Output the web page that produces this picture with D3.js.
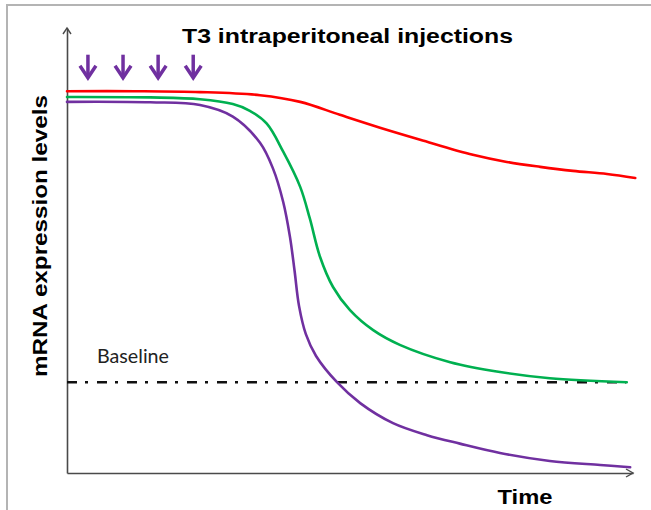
<!DOCTYPE html>
<html>
<head>
<meta charset="utf-8">
<script src="https://cdn.jsdelivr.net/npm/d3@7"></script>
<style>body{margin:0;background:#fff}</style>
</head>
<body>
<svg id="c" width="651" height="510"></svg>
<script>
// ---- data (time units 0..10, relative mRNA level 0..10) ----
const redTime   = [0, 1.2, 2.35, 3.41, 4.12, 4.82, 5.53, 6.24, 7.17, 7.77, 8.36, 8.94, 9.54, 10.04];
const redLevel  = [8.58, 8.58, 8.56, 8.49, 8.34, 8.05, 7.76, 7.49, 7.15, 6.99, 6.88, 6.79, 6.72, 6.63];

const greenTime  = [0, 1.47, 2.35, 2.93, 3.23, 3.53, 3.82, 4.12, 4.29, 4.47, 4.70, 5.00, 5.41, 5.88, 6.77, 7.65, 8.53, 9.89];
const greenLevel = [8.45, 8.44, 8.40, 8.29, 8.14, 7.85, 7.22, 6.43, 5.72, 4.86, 4.18, 3.66, 3.21, 2.88, 2.49, 2.27, 2.13, 2.04];

const purpleTime  = [0, 1.47, 2.35, 2.93, 3.41, 3.64, 3.82, 3.94, 4.02, 4.10, 4.22, 4.40, 4.77, 5.18, 5.76, 6.36, 6.94, 7.65, 8.53, 9.42, 9.95];
const purpleLevel = [8.34, 8.33, 8.27, 8.01, 7.42, 6.84, 6.09, 5.30, 4.55, 3.75, 3.12, 2.63, 2.04, 1.57, 1.12, 0.85, 0.66, 0.45, 0.27, 0.18, 0.13];

const injectionTimes = [0.37, 0.99, 1.61, 2.23];
const baselineLevel = 2.04;
const baselineEnd = 9.88;

const titleText = "T3 intraperitoneal injections";
const xLabel = "Time";
const yLabel = "mRNA expression levels";
const baselineLabel = "Baseline";

// ---- drawing ----
const svg = d3.select("#c");
svg.append("rect").attr("width", 651).attr("height", 510).attr("fill", "#fff");
// frame
svg.append("rect").attr("x", 7).attr("y", 5).attr("width", 700).attr("height", 600)
  .attr("fill", "none").attr("stroke", "#b4b4b4").attr("stroke-width", 2);

const x = d3.scaleLinear().domain([0, 10]).range([67, 633]);
const y = d3.scaleLinear().domain([0, 10]).range([473, 28]);

const axisColor = "#4a4a4a";
const gx = svg.append("g").attr("transform", `translate(0,${y(0)})`)
  .call(d3.axisBottom(x).tickValues([]).tickSizeOuter(0));
const gy = svg.append("g").attr("transform", `translate(${x(0)},0)`)
  .call(d3.axisLeft(y).tickValues([]).tickSizeOuter(0));
[gx, gy].forEach(g => g.select(".domain").attr("stroke", axisColor).attr("stroke-width", 1.6));

// open arrowheads on axes
svg.append("path")
  .attr("d", `M${x(10) - 7},${y(0) - 4}L${x(10)},${y(0)}L${x(10) - 7},${y(0) + 4}`)
  .attr("fill", "none").attr("stroke", axisColor).attr("stroke-width", 1.4);
svg.append("path")
  .attr("d", `M${x(0) - 4},${y(10) + 6}L${x(0)},${y(10)}L${x(0) + 4},${y(10) + 6}`)
  .attr("fill", "none").attr("stroke", axisColor).attr("stroke-width", 1.4);

// baseline
svg.append("line")
  .attr("x1", x(0)).attr("x2", x(baselineEnd))
  .attr("y1", y(baselineLevel)).attr("y2", y(baselineLevel))
  .attr("stroke", "#111").attr("stroke-width", 2.5)
  .attr("stroke-dasharray", "10,8,3,9");

svg.append("text").attr("x", 97).attr("y", 363)
  .attr("font-family", "Lato, 'Open Sans', sans-serif").attr("font-size", 19)
  .attr("fill", "#222").attr("textLength", 72).attr("lengthAdjust", "spacingAndGlyphs")
  .text(baselineLabel);

// curves
const line = d3.line().x(d => x(d[0])).y(d => y(d[1])).curve(d3.curveCatmullRom.alpha(0.5));
const series = [
  {t: redTime, v: redLevel, color: "#ff0000"},
  {t: greenTime, v: greenLevel, color: "#00b050"},
  {t: purpleTime, v: purpleLevel, color: "#7030a0"}
];
series.forEach(s => {
  svg.append("path").datum(d3.zip(s.t, s.v))
    .attr("d", line).attr("fill", "none")
    .attr("stroke", s.color).attr("stroke-width", 2.6)
    .attr("stroke-linecap", "round").attr("stroke-linejoin", "round");
});

// injection arrows
const arrowTop = 9.4, arrowTip = 8.88;
const ga = svg.append("g").attr("stroke", "#7030a0").attr("stroke-width", 3.5).attr("fill", "none");
injectionTimes.forEach(t => {
  const cx = x(t);
  ga.append("line").attr("x1", cx).attr("x2", cx).attr("y1", y(arrowTop)).attr("y2", y(arrowTip) - 1);
  ga.append("path").attr("d", `M${cx - 8},${y(arrowTip) - 12}L${cx},${y(arrowTip)}L${cx + 8},${y(arrowTip) - 12}`)
    .attr("stroke-linejoin", "miter");
});

// labels
const boldFont = "'Liberation Sans', Arial, sans-serif";
svg.append("text").attr("x", 347.5).attr("y", 43).attr("text-anchor", "middle")
  .attr("font-family", boldFont).attr("font-weight", "bold").attr("font-size", 20)
  .attr("textLength", 331).attr("lengthAdjust", "spacingAndGlyphs")
  .text(titleText);

svg.append("text").attr("x", 525).attr("y", 504).attr("text-anchor", "middle")
  .attr("font-family", boldFont).attr("font-weight", "bold").attr("font-size", 20)
  .attr("textLength", 55).attr("lengthAdjust", "spacingAndGlyphs")
  .text(xLabel);

svg.append("text").attr("transform", "translate(47,236) rotate(-90)").attr("text-anchor", "middle")
  .attr("font-family", boldFont).attr("font-weight", "bold").attr("font-size", 20)
  .attr("textLength", 282).attr("lengthAdjust", "spacingAndGlyphs")
  .text(yLabel);
</script>
</body>
</html>
